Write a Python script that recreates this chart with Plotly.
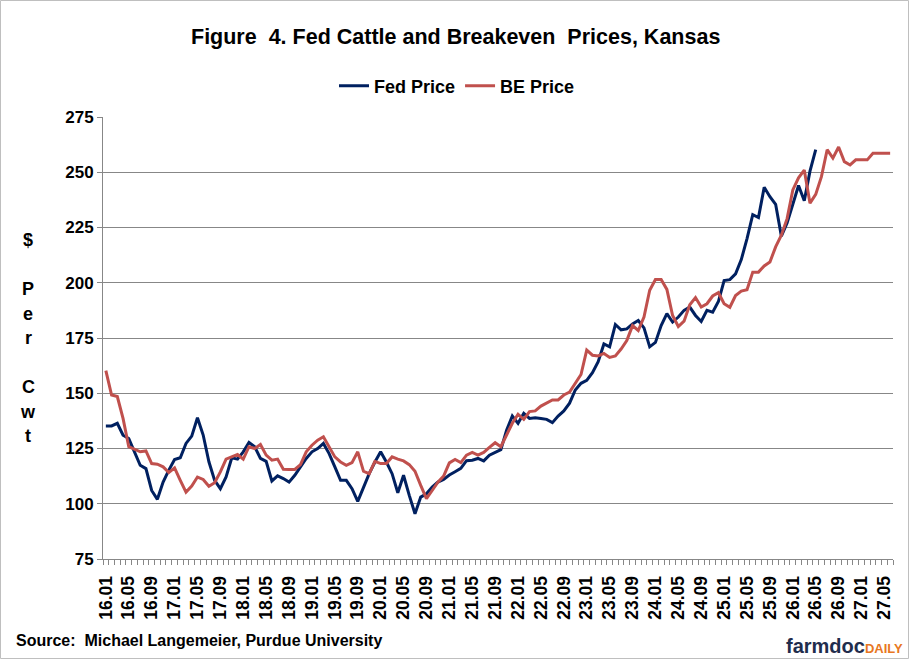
import plotly.graph_objects as go

# ---- data -------------------------------------------------------------
years = list(range(16, 28))
months = [f"{y:02d}.{m:02d}" for y in years for m in range(1, 13)][:138]

fed_price = [
    135.2, 135.2, 136.4, 131.0, 129.5, 123.5, 117.4, 115.9, 106.0, 102.0,
    109.8, 115.2, 120.0, 120.8, 127.3, 130.6, 138.9, 131.1, 119.0, 110.6,
    106.8, 112.1, 120.8, 120.2, 123.5, 127.7, 125.8, 120.5, 119.2, 110.3,
    112.6, 111.4, 109.8, 112.9, 116.7, 120.5, 123.5, 125.0, 127.3, 122.7,
    116.7, 110.6, 110.6, 106.8, 101.1, 107.6, 113.6, 118.9, 123.5, 118.9,
    113.6, 105.0, 112.9, 103.8, 95.5, 103.0, 104.5, 107.6, 109.8, 111.0,
    113.0, 114.5, 116.0, 119.5, 119.7, 120.5, 119.4, 122.0, 123.2, 124.5,
    133.3, 139.7, 136.4, 140.9, 138.6, 138.9, 138.6, 138.2, 136.7, 139.7,
    142.0, 145.5, 151.5, 154.5, 155.8, 159.3, 164.3, 172.3, 171.0, 181.1,
    178.7, 179.1, 181.4, 182.9, 179.6, 171.0, 173.0, 180.6, 186.0, 182.2,
    184.5, 187.5, 189.0, 185.2, 182.5, 187.5, 186.7, 191.5, 201.0, 201.4,
    204.0, 210.5, 220.0, 230.8, 229.5, 243.2, 238.9, 235.5, 221.1, 227.0,
    235.5, 244.0, 237.1, 250.5, 260.2,
]

be_price = [
    160.2, 149.2, 148.5, 138.6, 125.8, 124.7, 123.5, 123.9, 118.2, 117.9,
    116.7, 114.1, 116.2, 110.6, 105.3, 108.0, 112.1, 111.0, 107.9, 109.5,
    114.4, 120.2, 121.2, 122.3, 120.2, 125.8, 125.0, 126.8, 122.0, 119.7,
    120.2, 115.6, 115.5, 115.5, 117.7, 123.5, 126.5, 128.8, 130.3, 125.8,
    121.2, 118.9, 117.4, 118.6, 123.5, 114.7, 113.6, 119.2, 118.2, 118.2,
    121.2, 120.2, 119.4, 117.7, 114.7, 108.3, 102.3, 106.0, 109.8, 112.5,
    118.5, 120.0, 118.6, 122.0, 123.2, 122.0, 123.2, 125.5, 127.6, 125.8,
    131.0, 136.4, 140.5, 138.2, 141.7, 142.0, 144.2, 145.5, 147.0, 147.0,
    149.2, 150.5, 154.5, 158.5, 169.5, 167.2, 166.9, 168.0, 166.2, 166.9,
    170.0, 173.8, 180.6, 178.4, 184.5, 196.6, 201.5, 201.5, 197.0, 185.2,
    180.2, 182.6, 190.0, 193.3, 189.0, 190.5, 194.0, 195.5, 190.5, 188.9,
    194.2, 196.2, 196.8, 204.8, 204.8, 207.6, 209.4, 216.2, 221.5, 229.0,
    242.0, 247.5, 251.0, 236.0, 240.0, 248.0, 260.2, 256.4, 261.4, 254.8,
    253.3, 255.6, 255.6, 255.6, 258.6, 258.6, 258.6, 258.6,
]

y_ticks = [75, 100, 125, 150, 175, 200, 225, 250, 275]
label_step = 4

title_text = "Figure  4. Fed Cattle and Breakeven  Prices, Kansas"
y_title_chars = ["$", "", "P", "e", "r", "", "C", "w", "t"]
source_text = "Source:  Michael Langemeier, Purdue University"

# ---- figure -----------------------------------------------------------
W, H = 909, 659
ML, MR, MT, MB = 103, 16, 117, 100
PW = W - ML - MR
PH = H - MT - MB

def px_x(x):
    return (x - ML) / PW

def px_y(y):
    return (H - MB - y) / PH

FONT = "Liberation Sans, Arial, sans-serif"
NAVY = "#002060"
RED = "#C0504D"
GRID = "#878787"

idx = list(range(len(months)))

fig = go.Figure()
fig.add_trace(go.Scatter(
    x=idx[:len(fed_price)], y=fed_price, mode="lines", name="Fed Price",
    line=dict(color=NAVY, width=3)))
fig.add_trace(go.Scatter(
    x=idx[:len(be_price)], y=be_price, mode="lines", name="BE Price",
    line=dict(color=RED, width=3)))

tickvals = idx[::label_step]
ticktext = months[::label_step]

fig.update_layout(
    width=W, height=H,
    margin=dict(l=ML, r=MR, t=MT, b=MB),
    paper_bgcolor="white", plot_bgcolor="white",
    font=dict(family=FONT, size=16, color="black"),
    showlegend=True,
    legend=dict(orientation="h", x=px_x(457), xanchor="center",
                y=px_y(86), yanchor="middle",
                font=dict(family=FONT, size=18, weight=700),
                itemwidth=30, tracegroupgap=0, bgcolor="rgba(0,0,0,0)"),
    xaxis=dict(
        range=[-0.5, len(months) - 0.5],
        tickmode="array", tickvals=tickvals, ticktext=ticktext,
        tickangle=-90, ticks="outside", ticklen=9,
        tickcolor="rgba(0,0,0,0)",
        tickfont=dict(family=FONT, size=17.5, weight=700),
        showgrid=False, zeroline=False,
        showline=True, linecolor=GRID, linewidth=1,
        minor=dict(tick0=0.5, dtick=1, ticks="outside", ticklen=5,
                   tickcolor=GRID, showgrid=False),
    ),
    yaxis=dict(
        range=[75, 275], tickmode="array", tickvals=y_ticks,
        ticks="outside", ticklen=5, tickcolor=GRID,
        tickfont=dict(family=FONT, size=17, weight=700),
        showgrid=True, gridcolor=GRID, gridwidth=1,
        zeroline=False, showline=True, linecolor=GRID, linewidth=1,
    ),
)

annotations = [
    dict(text=f"<b>{title_text}</b>", x=px_x(455), y=px_y(37),
         xref="paper", yref="paper", xanchor="center", yanchor="middle",
         showarrow=False, font=dict(family=FONT, size=21.5, color="black")),
    dict(text=f"<b>{source_text}</b>", x=px_x(14), y=px_y(640),
         xref="paper", yref="paper", xanchor="left", yanchor="middle",
         showarrow=False, font=dict(family=FONT, size=16, color="black")),
    dict(text="<b>farmdoc</b><span style='font-size:13px;color:#E87722'><b>DAILY</b></span>",
         x=px_x(905), y=px_y(646), xref="paper", yref="paper",
         xanchor="right", yanchor="middle", showarrow=False,
         font=dict(family=FONT, size=20, color="#1F2D4D")),
]
char_y0, char_dy = 240, 24.5
for k, ch in enumerate(y_title_chars):
    if ch:
        annotations.append(dict(
            text=f"<b>{ch}</b>", x=px_x(28), y=px_y(char_y0 + k * char_dy),
            xref="paper", yref="paper", xanchor="center", yanchor="middle",
            showarrow=False, font=dict(family=FONT, size=18, color="black")))
fig.update_layout(annotations=annotations)

fig.add_shape(type="rect", xref="paper", yref="paper",
              x0=px_x(0.5), x1=px_x(908.5), y0=px_y(658.5), y1=px_y(0.5),
              line=dict(color="#BFBFBF", width=1), layer="below")

fig.write_html("out.html")
